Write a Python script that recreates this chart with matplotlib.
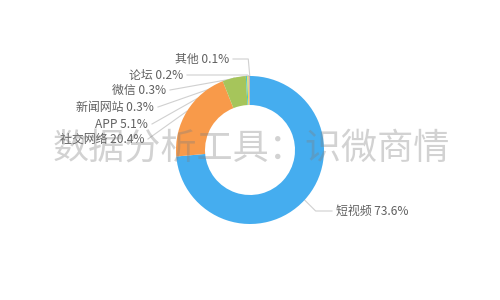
import numpy as np
import matplotlib
matplotlib.use('Agg')
import matplotlib.pyplot as plt

plt.rcParams['font.family'] = ['Noto Sans CJK SC', 'DejaVu Sans']

# 数据
names = ['短视频', '社交网络', 'APP', '新闻网站', '微信', '论坛', '其他']
shares = [73.6, 20.4, 5.1, 0.3, 0.3, 0.2, 0.1]
colors = ['#45adef', '#f89a4a', '#a6c55b', '#4dc9c1', '#f5d84c', '#8fb8e0', '#e07a7a']

# 标签位置 (像素, 图片坐标, y 向下)
label_x = [336, 144, 148, 154, 166, 183, 229]
label_y = [211, 139, 124, 107, 90, 75, 59]

W, H = 500, 300
cx, cy = 250, 150
r_out, r_in = 74, 45

fig = plt.figure(figsize=(5, 3), dpi=100)
ax = fig.add_axes([0, 0, 1, 1])
ax.set_xlim(0, W)
ax.set_ylim(0, H)
ax.axis('off')

wedges, _ = ax.pie(shares, colors=colors, radius=r_out, center=(cx, cy),
                   startangle=90, counterclock=False,
                   wedgeprops=dict(width=r_out - r_in, edgecolor='none', zorder=2))
ax.set_xlim(0, W)
ax.set_ylim(0, H)
ax.set_aspect('equal')

# 标签和引导线
for w, name, v, lx, ly in zip(wedges, names, shares, label_x, label_y):
    mid = np.deg2rad((w.theta1 + w.theta2) / 2)
    p0 = (cx + r_out * np.cos(mid), cy + r_out * np.sin(mid))
    ty = H - ly
    right = np.cos(mid) > 0
    if right:
        p1 = (cx + (r_out + 15) * np.cos(mid), ty)
        p2 = (lx - 4, ty)
    elif ty >= p0[1] - 1:
        p1 = (p0[0] - 1.5, ty)
        p2 = (lx + 4, ty)
    else:
        p1 = p0
        p2 = (lx + 4, ty)
    ax.plot([p0[0], p1[0], p2[0]], [p0[1], p1[1], p2[1]], color='#d0d0d0',
            lw=0.8, zorder=1)
    ax.text(lx, ty, f'{name} {v}%', fontsize=8.6, color='#606060',
            ha='left' if right else 'right', va='center', zorder=3)

# 水印
ax.text(251, H - 150, '数据分析工具：识微商情', fontsize=26, color='#808080',
        alpha=0.35, ha='center', va='center', zorder=5)

fig.savefig('out.png', dpi=100)
